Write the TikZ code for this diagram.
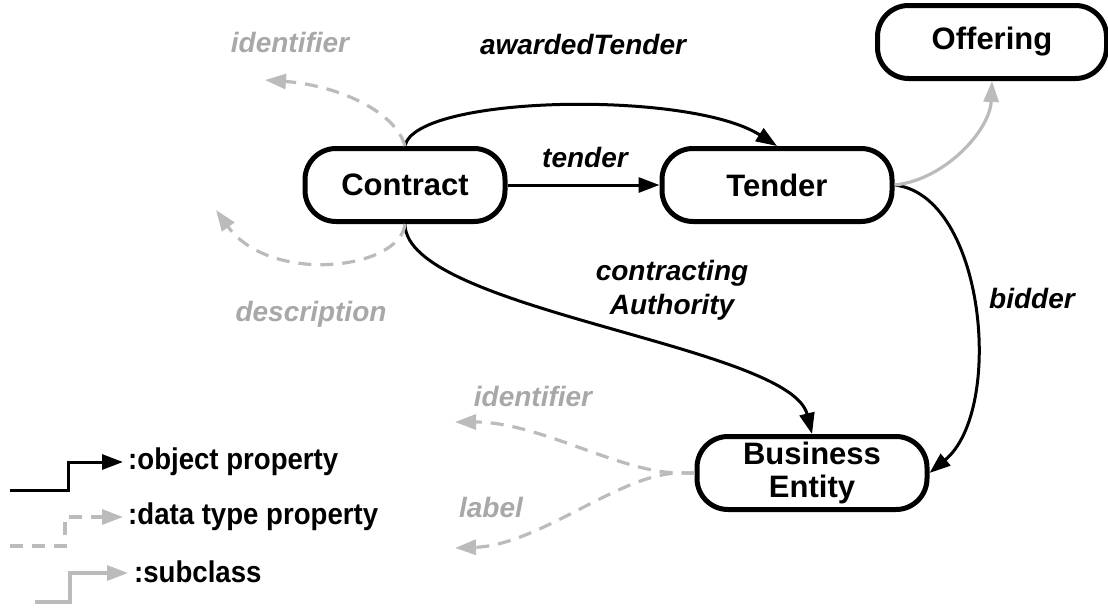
\documentclass[tikz,border=0pt]{standalone}
\usepackage{fontspec}
\setmainfont{Liberation Sans}
\newfontfamily\narrowfont[FakeStretch=0.92]{Liberation Sans}
\usetikzlibrary{arrows.meta}
\definecolor{lgray}{HTML}{BBBBBB}
\definecolor{tgray}{HTML}{A8A8A8}
\tikzset{
  cls/.style={draw, line width=5pt, rounded corners=31pt, minimum height=73pt, inner sep=0pt, align=center, font=\fontsize{31}{33}\selectfont\bfseries},
  tip/.style={-{Triangle[length=21pt,width=15pt]}},
  objp/.style={draw=black, line width=3pt, tip},
  dtp/.style={draw=lgray, line width=3.2pt, dash pattern=on 13pt off 9pt, tip},
  subp/.style={draw=lgray, line width=3.2pt, tip},
  elab/.style={font=\fontsize{28}{34}\selectfont\bfseries\itshape, align=center},
  glab/.style={elab, text=tgray},
  leg/.style={anchor=west, font=\narrowfont\fontsize{30}{32}\selectfont\bfseries, inner sep=0pt}
}
\begin{document}
\begin{tikzpicture}[x=1pt,y=-1pt]
\useasboundingbox (0,0) rectangle (1108,608);
% classes
\node[cls, minimum width=200pt] (C) at (405,185) {Contract};
\node[cls, minimum width=230pt] (T) at (777,185) {Tender};
\node[cls, minimum width=229pt] (O) at (992,42) {Offering};
\node[cls, minimum width=230pt] (B) at (812,473) {Business\\Entity};
% object properties
\draw[objp] (C.north) .. controls (415,95) and (690,90) .. (T.north);
\draw[objp] (C.east) -- (T.west);
\draw[objp] (C.south) .. controls (405,310) and (790,345) .. (B.north);
\draw[objp] (T.east) .. controls (985,195) and (1005,410) .. (B.east);
% subclass
\draw[subp] (T.east) .. controls (945,180) and (990,130) .. (O.south);
% data type properties
\coordinate (ci) at (265,80);
\coordinate (cd) at (216,210);
\coordinate (bi) at (455,422);
\coordinate (bl) at (455,548);
\draw[dtp] (C.north) .. controls (395,110) and (335,85) .. (ci);
\draw[dtp] (C.south) .. controls (400,270) and (270,285) .. (cd);
\draw[dtp] (B.west) -- (680,473) .. controls (620,473) and (540,422) .. (bi);
\draw[dtp] (B.west) -- (680,473) .. controls (620,473) and (540,545) .. (bl);
% labels
\node[glab] (li1) at (290,42) {identifier};
\node[elab] (law) at (583,44) {awardedTender};
\node[elab] (lte) at (585,157) {tender};
\node[elab] (lca) at (672,290) {contracting\\Authority};
\node[glab] (lde) at (311,314) {description};
\node[elab] (lbi) at (1032,298) {bidder};
\node[glab] (li2) at (533,396) {identifier};
\node[glab] (lla) at (491,507) {label};
% legend
\coordinate (a0) at (10,490); \coordinate (a1) at (68,490); \coordinate (a2) at (68,462); \coordinate (a3) at (123,462);
\coordinate (b0) at (10,546); \coordinate (b1) at (65,546); \coordinate (b2) at (65,517); \coordinate (b3) at (123,517);
\coordinate (s0) at (35,602); \coordinate (s1) at (70,602); \coordinate (s2) at (70,573); \coordinate (s3) at (128,573);
\draw[objp] (a0) -- (a1) -- (a2) -- (a3);
\draw[dtp] (b0) -- (b1) -- (b2) -- (b3);
\draw[subp] (s0) -- (s1) -- (s2) -- (s3);
\node[leg] (t1) at (128,462) {:object property};
\node[leg] (t2) at (128,517) {:data type property};
\node[leg] (t3) at (134,572) {:subclass};
\end{tikzpicture}
\end{document}
